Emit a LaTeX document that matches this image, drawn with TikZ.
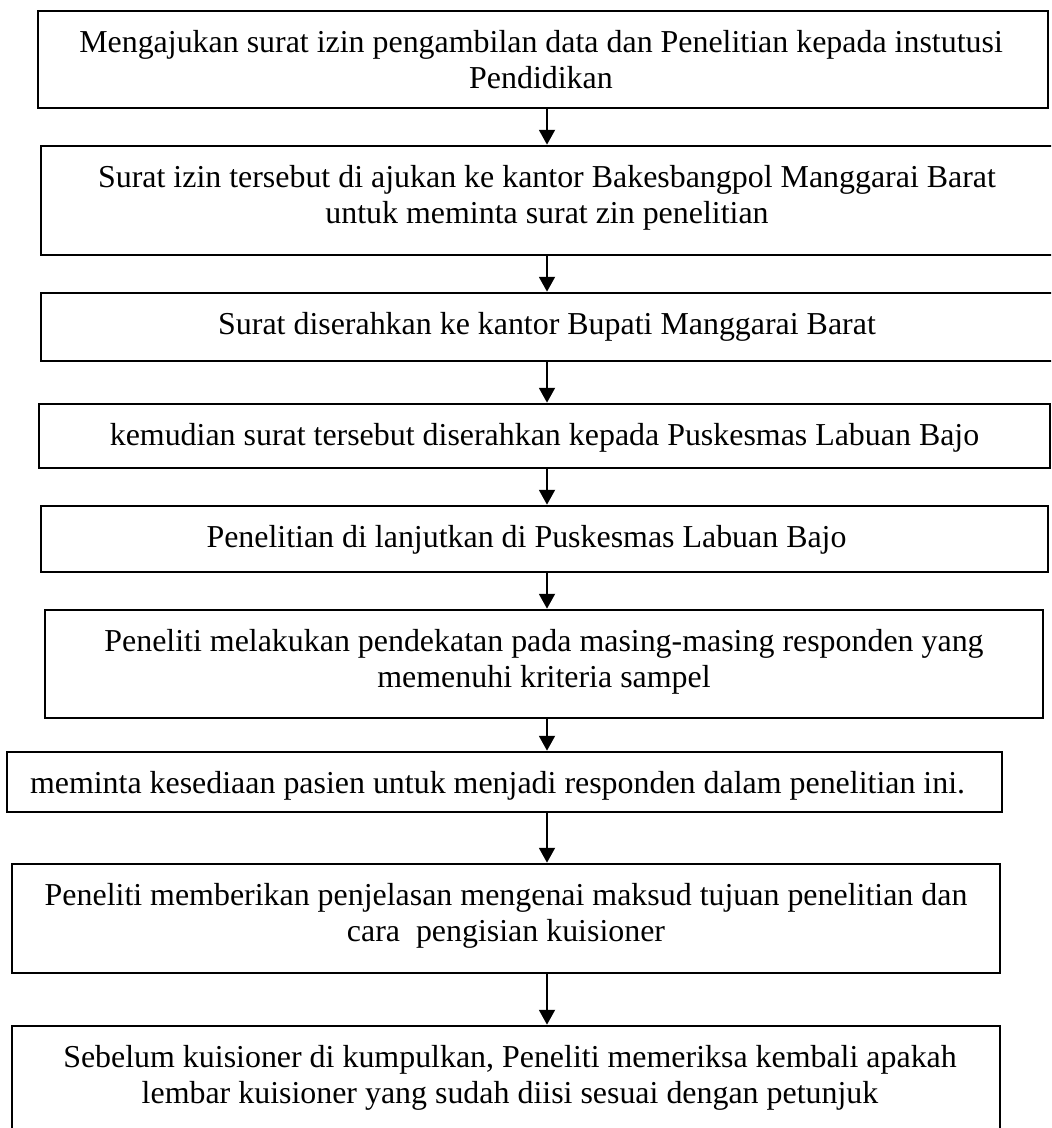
\documentclass[tikz,border=0pt]{standalone}
\usepackage{fontspec}
\setmainfont{Liberation Serif}
\usepackage{tikz}
\usetikzlibrary{
  arrows.meta,
  positioning
}
\def\px{0.376pt}

\begin{document}
\begin{tikzpicture}[
  x=\px, y=-\px,
  stepbox/.style={draw, line width=1pt, inner sep=0pt},
  txt/.style={font=\fontsize{12}{13.6}\selectfont, align=center, anchor=north, inner sep=0pt},
  arr/.style={-{Triangle[width=6pt,length=5.6pt]}, line width=0.75pt},
]
  \useasboundingbox (0,0) rectangle (1051,1128);
  \clip (0,0) rectangle (1051,1128);
  \coordinate (spine) at (547,0);

  % Step 1
  \node[stepbox, minimum width=1010*\px, minimum height=97*\px] (b1) at (543,59.5) {};
  \node[txt] (t1) at ([xshift=-2*\px, yshift=-20*\px]b1.north)
    {Mengajukan surat izin pengambilan data dan Penelitian kepada instutusi\\Pendidikan};

  % Step 2
  \node[stepbox, minimum width=1012*\px, minimum height=109*\px] (b2) at (547,200.5) {};
  \node[txt] (t2) at ([yshift=-20*\px]b2.north)
    {Surat izin tersebut di ajukan ke kantor Bakesbangpol Manggarai Barat\\untuk meminta surat zin penelitian};

  % Step 3
  \node[stepbox, minimum width=1012*\px, minimum height=68*\px] (b3) at (547,327) {};
  \node[txt] (t3) at ([yshift=-20*\px]b3.north) {Surat diserahkan ke kantor Bupati Manggarai Barat};

  % Step 4
  \node[stepbox, minimum width=1011*\px, minimum height=64*\px] (b4) at (544.5,436) {};
  \node[txt] (t4) at ([yshift=-20*\px]b4.north) {kemudian surat tersebut diserahkan kepada Puskesmas Labuan Bajo};

  % Step 5
  \node[stepbox, minimum width=1007*\px, minimum height=66*\px] (b5) at (544.5,539) {};
  \node[txt] (t5) at ([xshift=-18*\px, yshift=-20*\px]b5.north) {Penelitian di lanjutkan di Puskesmas Labuan Bajo};

  % Step 6
  \node[stepbox, minimum width=998*\px, minimum height=108*\px] (b6) at (544,664) {};
  \node[txt] (t6) at ([yshift=-20*\px]b6.north)
    {Peneliti melakukan pendekatan pada masing-masing responden yang\\memenuhi kriteria sampel};

  % Step 7
  \node[stepbox, minimum width=995*\px, minimum height=60*\px] (b7) at (504.5,782) {};
  \node[txt] (t7) at ([xshift=-7*\px, yshift=-20*\px]b7.north) {meminta kesediaan pasien untuk menjadi responden dalam penelitian ini.};

  % Step 8
  \node[stepbox, minimum width=988*\px, minimum height=109*\px] (b8) at (506,918.5) {};
  \node[txt] (t8) at ([yshift=-20*\px]b8.north)
    {Peneliti memberikan penjelasan mengenai maksud tujuan penelitian dan\\cara\ \ pengisian kuisioner};

  % Step 9
  \node[stepbox, minimum width=988*\px, minimum height=114*\px] (b9) at (506,1083) {};
  \node[txt] (t9) at ([xshift=4*\px, yshift=-20*\px]b9.north)
    {Sebelum kuisioner di kumpulkan, Peneliti memeriksa kembali apakah\\lembar kuisioner yang sudah diisi sesuai dengan petunjuk};

  % Arrows
  \foreach \a/\b in {b1/b2, b2/b3, b3/b4, b4/b5, b5/b6, b6/b7, b7/b8, b8/b9}
    \draw[arr] (\a.south -| spine) -- (\b.north -| spine);
\end{tikzpicture}
\end{document}
